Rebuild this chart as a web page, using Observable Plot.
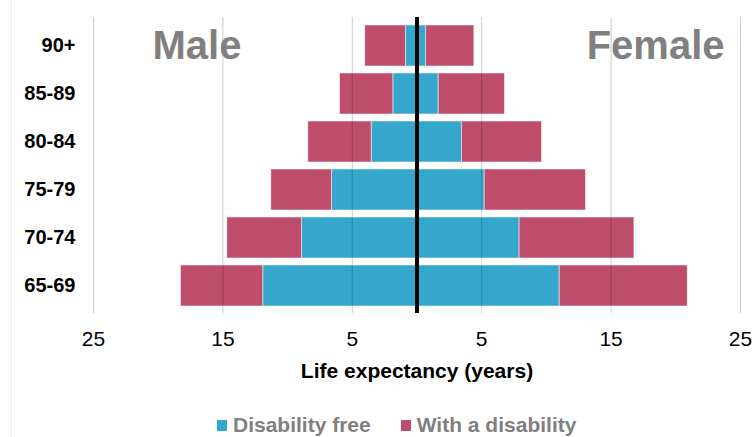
<!DOCTYPE html>
<html>
<head>
<meta charset="utf-8">
<script src="https://cdn.jsdelivr.net/npm/d3@7"></script>
<script src="https://cdn.jsdelivr.net/npm/@observablehq/plot@0.6"></script>
<style>
  html, body { margin: 0; padding: 0; background: #fff; }
  body { width: 754px; height: 437px; position: relative; overflow: hidden; font-family: "Liberation Sans", Arial, sans-serif; }
  #frame { position: absolute; left: 11px; top: 0; width: 1px; height: 437px; background: #eeeeee; }
  #legend { display: flex; padding-left: 217px; padding-top: 18px; line-height: 24px; font-size: 21px; font-weight: bold; color: #808080; }
  .item { display: flex; align-items: center; margin-right: 30px; }
  .sw { width: 10px; height: 11px; margin-right: 6px; }
</style>
</head>
<body>
<div id="frame"></div>
<div id="chart"></div>
<div id="legend"></div>
<script>
// Age groups, top to bottom
const ages = ["90+", "85-89", "80-84", "75-79", "70-74", "65-69"];
// Life expectancy (years)
const maleDisabilityFree   = [0.85, 1.83, 3.5, 6.57, 8.89, 11.88];
const maleWithDisability   = [3.15, 4.12, 4.9, 4.69, 5.77, 6.36];
const femaleDisabilityFree = [0.7, 1.68, 3.48, 5.23, 7.93, 11.03];
const femaleWithDisability = [3.73, 5.12, 6.18, 7.83, 8.87, 9.89];
const seriesNames = ["Disability free", "With a disability"];
const seriesColors = ["#35a7cc", "#bd4d6b"];
const xTicks = [-25, -15, -5, 5, 15, 25];
const xLabel = "Life expectancy (years)";
const sexLabels = ["Male", "Female"];

const rows = [];
ages.forEach((age, i) => {
  rows.push({age, sex: "Male", type: seriesNames[0], value: -maleDisabilityFree[i]});
  rows.push({age, sex: "Male", type: seriesNames[1], value: -maleWithDisability[i]});
  rows.push({age, sex: "Female", type: seriesNames[0], value: femaleDisabilityFree[i]});
  rows.push({age, sex: "Female", type: seriesNames[1], value: femaleWithDisability[i]});
});

const font = "Liberation Sans, Arial, sans-serif";

const chart = Plot.plot({
  width: 754,
  height: 395,
  marginTop: 17,
  marginBottom: 82,
  marginLeft: 93,
  marginRight: 14,
  style: {fontFamily: font, background: "#fff", color: "#000"},
  x: {domain: [-25, 25], ticks: xTicks, tickFormat: d => Math.abs(d), label: null},
  y: {domain: ages, padding: 0.15, label: null},
  color: {domain: seriesNames, range: seriesColors},
  marks: [
    Plot.barX(rows, Plot.stackX({x: "value", y: "age", fill: "type", stroke: "#fff", strokeOpacity: 0.5, strokeWidth: 1})),
    Plot.ruleX(xTicks, {stroke: "#000", strokeOpacity: 0.2, strokeWidth: 1}),
    Plot.ruleX([0], {stroke: "#000", strokeWidth: 4}),
    Plot.axisX({ticks: xTicks, tickSize: 0, tickPadding: 18, fontSize: 21, label: null, tickFormat: d => Math.abs(d)}),
    Plot.axisY({tickSize: 0, tickPadding: 18, fontSize: 20, fontWeight: "bold", label: null}),
    Plot.text([xLabel], {frameAnchor: "bottom", dy: 58, fontSize: 21, fontWeight: "bold", lineAnchor: "middle"}),
    Plot.text([sexLabels[0]], {frameAnchor: "top-left", dx: 59, dy: 29, fontSize: 40, fontWeight: "bold", fill: "#808080", textAnchor: "start", lineAnchor: "middle"}),
    Plot.text([sexLabels[1]], {frameAnchor: "top-right", dx: -16, dy: 29, fontSize: 40, fontWeight: "bold", fill: "#808080", textAnchor: "end", lineAnchor: "middle"})
  ]
});
document.getElementById("chart").appendChild(chart);

const legend = document.getElementById("legend");
seriesNames.forEach((name, i) => {
  const item = document.createElement("div");
  item.className = "item";
  const sw = document.createElement("span");
  sw.className = "sw";
  sw.style.background = seriesColors[i];
  const t = document.createElement("span");
  t.textContent = name;
  item.appendChild(sw);
  item.appendChild(t);
  legend.appendChild(item);
});
</script>
</body>
</html>
